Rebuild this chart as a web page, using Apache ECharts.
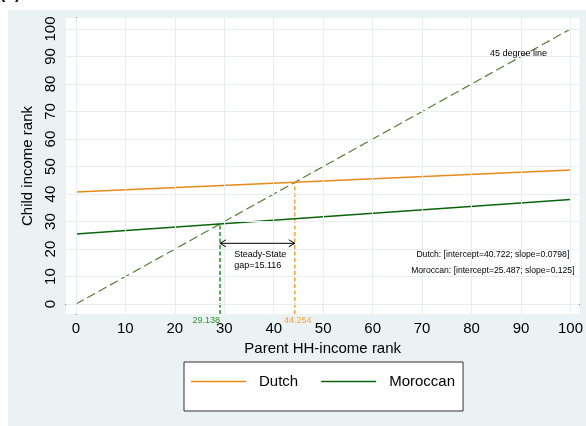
<!DOCTYPE html>
<html><head><meta charset="utf-8">
<script src="https://cdn.jsdelivr.net/npm/echarts@6/dist/echarts.min.js"></script>
<style>html,body{margin:0;padding:0;background:#fff}#c{width:586px;height:426px}</style>
</head><body><div id="c"></div>
<script>
// ---- data ----
const parentRank = [0, 100];
const dutchRank = [40.722, 48.702];
const moroccanRank = [25.487, 37.987];
const diagonalRank = [0, 100];
const tickValues = [0, 10, 20, 30, 40, 50, 60, 70, 80, 90, 100];
const dutchSteadyState = 44.254;
const moroccanSteadyState = 29.138;
const steadyStateGap = 15.116;
const dutchIntercept = 40.722, dutchSlope = 0.0798;
const moroccanIntercept = 25.487, moroccanSlope = 0.125;

// ---- layout / style ----
const FONT = "'Liberation Sans', Arial, Helvetica, sans-serif";
const X_MIN = -2, X_MAX = 101.8, Y_MIN = -3.6, Y_MAX = 104;
const ORANGE = '#E8891A', GREEN = '#0A640A', DIAG = '#5A7E38';
const ORANGE_L = '#F5A442', GREEN_L = '#2F932F';
const GRIDC = '#E6EEF0';

const pairs = (xs, ys) => xs.map((x, i) => [x, ys[i]]);

const annotations = [
  { pos: [89.5, 91], text: '45 degree line', color: '#000', align: 'center', vAlign: 'middle', size: 9 },
  { pos: [32, 20], text: 'Steady-State\ngap=' + steadyStateGap, color: '#000', align: 'left', vAlign: 'top', size: 9 },
  { pos: [84.3, 18.0], text: 'Dutch: [intercept=' + dutchIntercept + '; slope=' + dutchSlope + ']', color: '#000', align: 'center', vAlign: 'middle', size: 8.6 },
  { pos: [84.3, 12.0], text: 'Moroccan: [intercept=' + moroccanIntercept + '; slope=' + moroccanSlope + ']', color: '#000', align: 'center', vAlign: 'middle', size: 8.6 },
  { pos: [moroccanSteadyState, Y_MIN], text: String(moroccanSteadyState), color: GREEN_L, align: 'right', vAlign: 'top', size: 9, dy: 1 },
  { pos: [dutchSteadyState, Y_MIN], text: String(dutchSteadyState), color: ORANGE_L, align: 'center', vAlign: 'top', size: 9, dy: 1, dx: 3 }
];

const chart = echarts.init(document.getElementById('c'), null, { renderer: 'canvas' });

const axisCommon = {
  type: 'value',
  axisLine: { show: true, lineStyle: { color: '#000', width: 1 } },
  axisTick: { show: true, customValues: tickValues, length: 5, lineStyle: { color: '#000' } },
  splitLine: { show: false },
  nameTextStyle: { fontFamily: FONT, fontSize: 15, color: '#000' }
};

const option = {
  animation: false,
  backgroundColor: '#fff',
  graphic: [
    { type: 'rect', z: -100, shape: { x: 8, y: 10, width: 600, height: 430 }, style: { fill: '#EAF2F3' } },
    { type: 'text', z: 10, left: 0, top: -13, style: { text: '(b)', font: 'bold 16px ' + FONT, fill: '#000' } }
  ],
  grid: { left: 66, right: 5, top: 18, bottom: 112, show: true, backgroundColor: '#fff', borderWidth: 0, containLabel: false },
  xAxis: Object.assign({}, axisCommon, {
    min: X_MIN, max: X_MAX,
    name: 'Parent HH-income rank', nameLocation: 'middle', nameGap: 17,
    axisLabel: { customValues: tickValues, fontFamily: FONT, fontSize: 15, color: '#000', margin: 7 }
  }),
  yAxis: Object.assign({}, axisCommon, {
    min: Y_MIN, max: Y_MAX,
    name: 'Child income rank', nameLocation: 'middle', nameGap: 22,
    axisLabel: { customValues: tickValues, rotate: 90, fontFamily: FONT, fontSize: 15, color: '#000', margin: 8 }
  }),
  legend: {
    data: ['Dutch', 'Moroccan'],
    left: 184, top: 362,
    orient: 'horizontal',
    icon: 'rect',
    itemWidth: 55, itemHeight: 1.5, itemGap: 23,
    padding: [12, 8, 22, 7],
    backgroundColor: '#fff', borderColor: '#333', borderWidth: 1,
    textStyle: { fontFamily: FONT, fontSize: 15, color: '#000', padding: [0, 0, 0, 8] }
  },
  series: [
    {
      name: 'grid', type: 'line', data: [], z: 1, silent: true,
      markLine: {
        silent: true, symbol: 'none', label: { show: false },
        lineStyle: { color: GRIDC, width: 1, type: 'solid' },
        data: tickValues.map(v => ({ xAxis: v })).concat(tickValues.map(v => ({ yAxis: v })))
      }
    },
    {
      name: '45 degree', type: 'line', data: pairs(diagonalRank, diagonalRank), symbol: 'none', z: 3,
      lineStyle: { color: DIAG, width: 1.2, type: [9, 4] }
    },
    {
      name: 'Dutch SS', type: 'line', symbol: 'none', z: 3,
      data: [[dutchSteadyState, Y_MIN], [dutchSteadyState, dutchSteadyState]],
      lineStyle: { color: ORANGE_L, width: 1.6, type: [4, 2.5] }
    },
    {
      name: 'Moroccan SS', type: 'line', symbol: 'none', z: 3,
      data: [[moroccanSteadyState, Y_MIN], [moroccanSteadyState, moroccanSteadyState]],
      lineStyle: { color: GREEN_L, width: 1.6, type: [4, 2.5] }
    },
    {
      name: 'Dutch', type: 'line', data: pairs(parentRank, dutchRank), symbol: 'none', z: 4,
      lineStyle: { color: ORANGE, width: 1.5 }, itemStyle: { color: ORANGE }
    },
    {
      name: 'Moroccan', type: 'line', data: pairs(parentRank, moroccanRank), symbol: 'none', z: 4,
      lineStyle: { color: GREEN, width: 1.5 }, itemStyle: { color: GREEN }
    },
    {
      name: 'gap arrow', type: 'custom', z: 5, clip: false,
      encode: { x: [0, 1], y: 2 },
      data: [[moroccanSteadyState, dutchSteadyState, 22.1]],
      renderItem(params, api) {
        const a = api.coord([api.value(0), api.value(2)]);
        const b = api.coord([api.value(1), api.value(2)]);
        const h = 6, w = 3.5;
        const st = { stroke: '#000', fill: null, lineWidth: 1 };
        return {
          type: 'group', children: [
            { type: 'line', shape: { x1: a[0], y1: a[1], x2: b[0], y2: b[1] }, style: st },
            { type: 'polyline', shape: { points: [[a[0] + h, a[1] - w], [a[0], a[1]], [a[0] + h, a[1] + w]] }, style: st },
            { type: 'polyline', shape: { points: [[b[0] - h, b[1] - w], [b[0], b[1]], [b[0] - h, b[1] + w]] }, style: st }
          ]
        };
      }
    },
    {
      name: 'annotations', type: 'custom', z: 6, clip: false,
      encode: { x: 0, y: 1 },
      data: annotations.map(a => a.pos),
      renderItem(params, api) {
        const a = annotations[params.dataIndex];
        const p = api.coord([api.value(0), api.value(1)]);
        return {
          type: 'text',
          x: p[0] + (a.dx || 0), y: p[1] + (a.dy || 0),
          style: {
            text: a.text, fill: a.color, fontFamily: FONT, fontSize: a.size,
            align: a.align, verticalAlign: a.vAlign, lineHeight: a.size + 2
          }
        };
      }
    }
  ]
};
chart.setOption(option);
</script>
</body></html>
